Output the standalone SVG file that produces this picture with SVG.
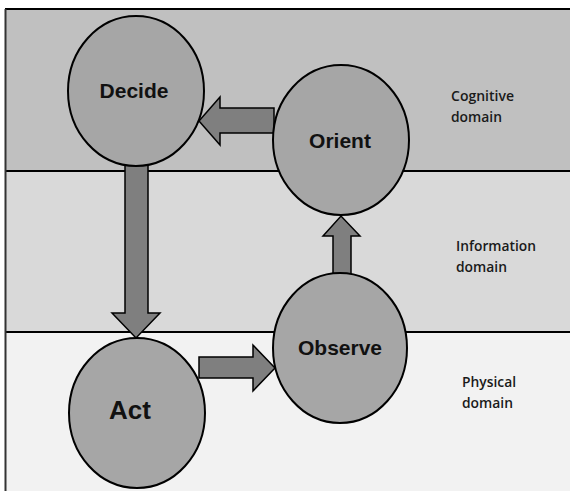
<svg xmlns="http://www.w3.org/2000/svg" width="570" height="491" viewBox="0 0 570 491">
  <style>
    .node { fill: #a6a6a6; stroke: #000; stroke-width: 2; }
    .arrow { fill: #7f7f7f; stroke: #000; stroke-width: 1.5; stroke-linejoin: miter; }
    .label { font-family: "Liberation Sans", Arial, sans-serif; font-weight: bold; fill: #111; text-anchor: middle; }
    .domain { font-family: "Open Sans", "Liberation Sans", sans-serif; font-weight: 600; font-size: 14px; fill: #1a1a1a; }
    .divider { stroke: #000; stroke-width: 2; }
  </style>

  <!-- background -->
  <rect x="0" y="0" width="570" height="491" fill="#fff"/>

  <!-- domain bands -->
  <g id="bands">
    <rect x="5" y="9" width="570" height="162" fill="#c0c0c0"/>
    <rect x="5" y="171" width="570" height="161" fill="#d9d9d9"/>
    <rect x="5" y="332" width="570" height="165" fill="#f2f2f2"/>
    <line class="divider" x1="5" y1="9" x2="570" y2="9"/>
    <line class="divider" x1="5" y1="171" x2="570" y2="171"/>
    <line class="divider" x1="5" y1="332" x2="570" y2="332"/>
    <line x1="5.5" y1="9" x2="5.5" y2="491" stroke="#333" stroke-width="2"/>
  </g>

  <!-- domain labels -->
  <g id="domain-labels">
    <text class="domain" x="451" y="101" textLength="63" lengthAdjust="spacingAndGlyphs">Cognitive</text>
    <text class="domain" x="451" y="122" textLength="51" lengthAdjust="spacingAndGlyphs">domain</text>
    <text class="domain" x="456" y="251" textLength="80" lengthAdjust="spacingAndGlyphs">Information</text>
    <text class="domain" x="456" y="272" textLength="51" lengthAdjust="spacingAndGlyphs">domain</text>
    <text class="domain" x="462" y="387" textLength="54" lengthAdjust="spacingAndGlyphs">Physical</text>
    <text class="domain" x="462" y="408" textLength="51" lengthAdjust="spacingAndGlyphs">domain</text>
  </g>

  <!-- connectors: block arrows -->
  <g id="connectors">
    <!-- Orient -> Decide -->
    <polygon class="arrow" points="274,108 220,108 220,97 199,121 220,145 220,133 274,133"/>
    <!-- Decide -> Act -->
    <polygon class="arrow" points="125,164 148,164 148,313 160,313 136,338 112,313 125,313"/>
    <!-- Act -> Observe -->
    <polygon class="arrow" points="199,357 253,357 253,345 275,368 253,391 253,378 199,378"/>
    <!-- Observe -> Orient -->
    <polygon class="arrow" points="333,275 333,236 323,236 341,216 360,236 351,236 351,275"/>
  </g>

  <!-- nodes -->
  <g id="decide">
    <ellipse class="node" cx="136" cy="91" rx="68" ry="75"/>
    <text class="label" x="134" y="98" font-size="21">Decide</text>
  </g>
  <g id="orient">
    <ellipse class="node" cx="341" cy="140" rx="68" ry="75"/>
    <text class="label" x="340" y="148" font-size="21">Orient</text>
  </g>
  <g id="observe">
    <ellipse class="node" cx="340" cy="348" rx="67" ry="75"/>
    <text class="label" x="340" y="355" font-size="21">Observe</text>
  </g>
  <g id="act">
    <ellipse class="node" cx="137" cy="413" rx="68" ry="75"/>
    <text class="label" x="130" y="419" font-size="26">Act</text>
  </g>
</svg>
